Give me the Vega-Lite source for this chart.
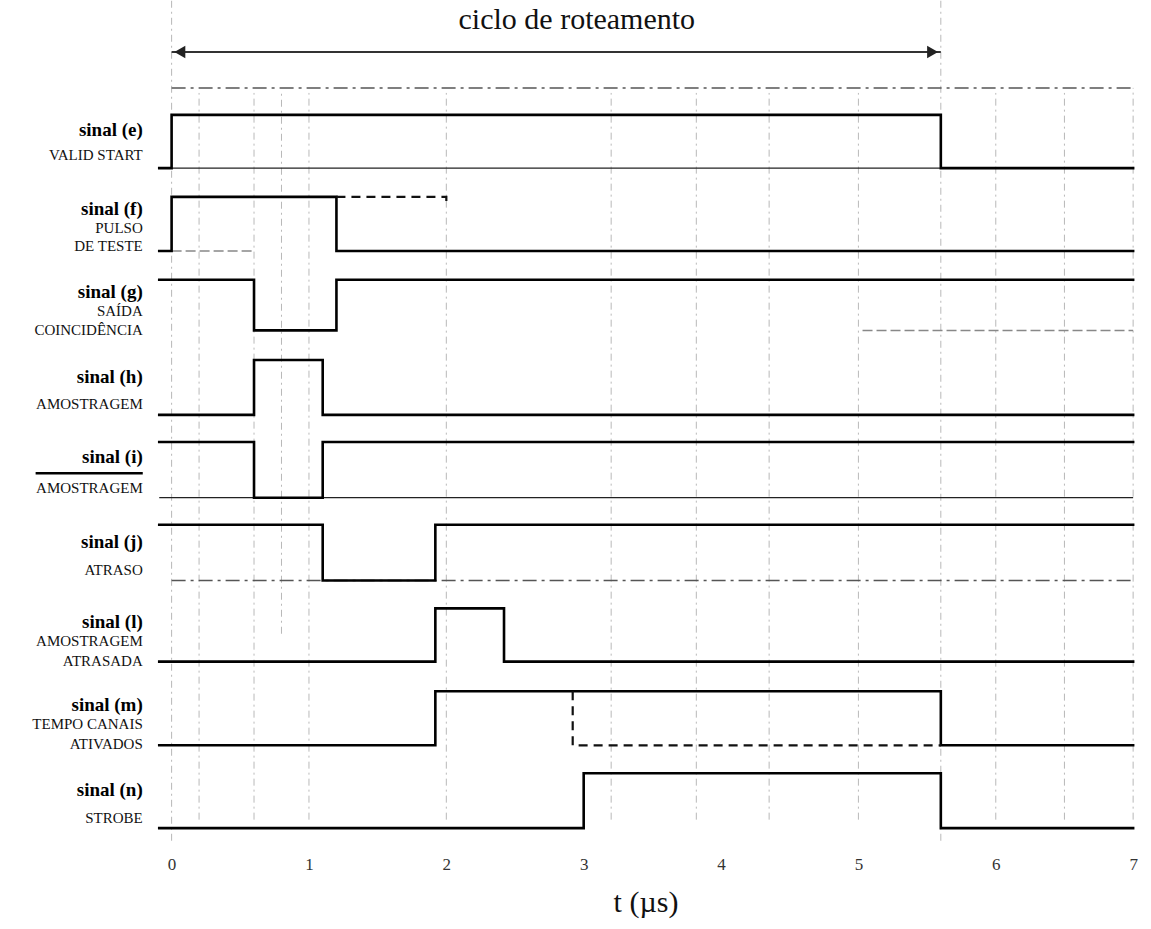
{
  "$schema": "https://vega.github.io/schema/vega-lite/v6.json",
  "width": 989,
  "height": 845,
  "autosize": "none",
  "padding": {"left": 151, "top": 0, "right": 11, "bottom": 84},
  "background": "white",
  "config": {"view": {"stroke": null}},
  "datasets": {
    "sig": [
      {"s": "e", "i": 1, "t": -0.09, "v": 8.01}, {"s": "e", "i": 2, "t": 0, "v": 8.01}, {"s": "e", "i": 3, "t": 0, "v": 8.64}, {"s": "e", "i": 4, "t": 5.6, "v": 8.64}, {"s": "e", "i": 5, "t": 5.6, "v": 8.01}, {"s": "e", "i": 6, "t": 7, "v": 8.01},
      {"s": "f", "i": 1, "t": -0.09, "v": 7.03}, {"s": "f", "i": 2, "t": 0, "v": 7.03}, {"s": "f", "i": 3, "t": 0, "v": 7.67}, {"s": "f", "i": 4, "t": 1.2, "v": 7.67}, {"s": "f", "i": 5, "t": 1.2, "v": 7.03}, {"s": "f", "i": 6, "t": 7, "v": 7.03},
      {"s": "g", "i": 1, "t": -0.09, "v": 6.69}, {"s": "g", "i": 2, "t": 0.6, "v": 6.69}, {"s": "g", "i": 3, "t": 0.6, "v": 6.09}, {"s": "g", "i": 4, "t": 1.2, "v": 6.09}, {"s": "g", "i": 5, "t": 1.2, "v": 6.69}, {"s": "g", "i": 6, "t": 7, "v": 6.69},
      {"s": "h", "i": 1, "t": -0.09, "v": 5.09}, {"s": "h", "i": 2, "t": 0.6, "v": 5.09}, {"s": "h", "i": 3, "t": 0.6, "v": 5.74}, {"s": "h", "i": 4, "t": 1.1, "v": 5.74}, {"s": "h", "i": 5, "t": 1.1, "v": 5.09}, {"s": "h", "i": 6, "t": 7, "v": 5.09},
      {"s": "i", "i": 1, "t": -0.09, "v": 4.77}, {"s": "i", "i": 2, "t": 0.6, "v": 4.77}, {"s": "i", "i": 3, "t": 0.6, "v": 4.11}, {"s": "i", "i": 4, "t": 1.1, "v": 4.11}, {"s": "i", "i": 5, "t": 1.1, "v": 4.77}, {"s": "i", "i": 6, "t": 7, "v": 4.77},
      {"s": "j", "i": 1, "t": -0.09, "v": 3.79}, {"s": "j", "i": 2, "t": 1.1, "v": 3.79}, {"s": "j", "i": 3, "t": 1.1, "v": 3.13}, {"s": "j", "i": 4, "t": 1.92, "v": 3.13}, {"s": "j", "i": 5, "t": 1.92, "v": 3.79}, {"s": "j", "i": 6, "t": 7, "v": 3.79},
      {"s": "l", "i": 1, "t": -0.09, "v": 2.17}, {"s": "l", "i": 2, "t": 1.92, "v": 2.17}, {"s": "l", "i": 3, "t": 1.92, "v": 2.8}, {"s": "l", "i": 4, "t": 2.42, "v": 2.8}, {"s": "l", "i": 5, "t": 2.42, "v": 2.17}, {"s": "l", "i": 6, "t": 7, "v": 2.17},
      {"s": "m", "i": 1, "t": -0.09, "v": 1.18}, {"s": "m", "i": 2, "t": 1.92, "v": 1.18}, {"s": "m", "i": 3, "t": 1.92, "v": 1.82}, {"s": "m", "i": 4, "t": 5.6, "v": 1.82}, {"s": "m", "i": 5, "t": 5.6, "v": 1.18}, {"s": "m", "i": 6, "t": 7, "v": 1.18},
      {"s": "n", "i": 1, "t": -0.09, "v": 0.2}, {"s": "n", "i": 2, "t": 3.0, "v": 0.2}, {"s": "n", "i": 3, "t": 3.0, "v": 0.85}, {"s": "n", "i": 4, "t": 5.6, "v": 0.85}, {"s": "n", "i": 5, "t": 5.6, "v": 0.2}, {"s": "n", "i": 6, "t": 7, "v": 0.2}
    ],
    "dash": [
      {"s": "f", "i": 1, "t": 1.2, "v": 7.67}, {"s": "f", "i": 2, "t": 2.0, "v": 7.67}, {"s": "f", "i": 3, "t": 2.0, "v": 7.55},
      {"s": "m", "i": 1, "t": 2.92, "v": 1.82}, {"s": "m", "i": 2, "t": 2.92, "v": 1.18}, {"s": "m", "i": 3, "t": 5.6, "v": 1.18}
    ],
    "base": [
      {"s": "e", "t": 0, "t2": 5.6, "v": 8.01, "k": "thin"},
      {"s": "i", "t": -0.09, "t2": 7, "v": 4.11, "k": "thin"},
      {"s": "g", "t": 5.03, "t2": 7, "v": 6.09, "k": "faint"},
      {"s": "f", "t": 0, "t2": 0.6, "v": 7.03, "k": "faint"},
      {"s": "j", "t": 0, "t2": 7, "v": 3.13, "k": "dashdot"},
      {"s": "top", "t": 0, "t2": 7, "v": 8.96, "k": "dashdot"}
    ],
    "grid": [
      {"t": 0, "a": 0.05, "b": 10}, {"t": 0.2, "a": 0.3, "b": 8.9}, {"t": 0.6, "a": 0.3, "b": 8.9}, {"t": 0.8, "a": 2.5, "b": 8.9},
      {"t": 1.0, "a": 0.3, "b": 8.9}, {"t": 2.0, "a": 0.3, "b": 8.9}, {"t": 3.2, "a": 0.3, "b": 8.9}, {"t": 3.82, "a": 0.3, "b": 8.9},
      {"t": 4.35, "a": 0.3, "b": 8.9}, {"t": 5.0, "a": 0.3, "b": 8.9}, {"t": 5.6, "a": 0.05, "b": 10}, {"t": 6.0, "a": 0.3, "b": 8.9},
      {"t": 6.5, "a": 0.3, "b": 8.9}, {"t": 7.0, "a": 0.3, "b": 8.96}
    ],
    "labels": [
      {"text": "sinal (e)", "t": -0.21, "v": 8.46, "k": "b"},
      {"text": "VALID START", "t": -0.21, "v": 8.17, "k": "c"},
      {"text": "sinal (f)", "t": -0.21, "v": 7.53, "k": "b"},
      {"text": "PULSO", "t": -0.21, "v": 7.3, "k": "c"},
      {"text": "DE TESTE", "t": -0.21, "v": 7.09, "k": "c"},
      {"text": "sinal (g)", "t": -0.21, "v": 6.55, "k": "b"},
      {"text": "SAÍDA", "t": -0.21, "v": 6.32, "k": "c"},
      {"text": "COINCIDÊNCIA", "t": -0.21, "v": 6.1, "k": "c"},
      {"text": "sinal (h)", "t": -0.21, "v": 5.54, "k": "b"},
      {"text": "AMOSTRAGEM", "t": -0.21, "v": 5.22, "k": "c"},
      {"text": "sinal (i)", "t": -0.21, "v": 4.59, "k": "b"},
      {"text": "AMOSTRAGEM", "t": -0.21, "v": 4.22, "k": "c"},
      {"text": "sinal (j)", "t": -0.21, "v": 3.59, "k": "b"},
      {"text": "ATRASO", "t": -0.21, "v": 3.25, "k": "c"},
      {"text": "sinal (l)", "t": -0.21, "v": 2.64, "k": "b"},
      {"text": "AMOSTRAGEM", "t": -0.21, "v": 2.41, "k": "c"},
      {"text": "ATRASADA", "t": -0.21, "v": 2.18, "k": "c"},
      {"text": "sinal (m)", "t": -0.21, "v": 1.66, "k": "b"},
      {"text": "TEMPO CANAIS", "t": -0.21, "v": 1.43, "k": "c"},
      {"text": "ATIVADOS", "t": -0.21, "v": 1.2, "k": "c"},
      {"text": "sinal (n)", "t": -0.21, "v": 0.65, "k": "b"},
      {"text": "STROBE", "t": -0.21, "v": 0.32, "k": "c"}
    ],
    "overline": [{"t": -0.99, "t2": -0.21, "v": 4.4}],
    "arrow": [{"t": 0, "t2": 5.6, "v": 9.385}],
    "heads": [{"t": 0.06, "v": 9.385, "shape": "triangle-left"}, {"t": 5.54, "v": 9.385, "shape": "triangle-right"}],
    "title": [{"text": "ciclo de roteamento", "t": 2.95, "v": 9.76}]
  },
  "encoding": {
    "x": {
      "field": "t", "type": "quantitative",
      "scale": {"domain": [-0.15, 7.05], "nice": false, "zero": false},
      "title": "t (µs)",
      "axis": {
        "values": [0, 1, 2, 3, 4, 5, 6, 7], "format": "d",
        "grid": false, "domain": false, "ticks": false,
        "labelFont": "Liberation Serif", "labelFontSize": 17, "labelColor": "#333",
        "labelPadding": 11,
        "titleFont": "Liberation Serif", "titleFontSize": 30, "titleFontWeight": "normal",
        "titleColor": "#111", "titlePadding": 15
      }
    },
    "y": {"field": "v", "type": "quantitative", "scale": {"domain": [0, 10], "nice": false, "zero": false}, "axis": null}
  },
  "layer": [
    {
      "data": {"name": "grid"},
      "mark": {"type": "rule", "color": "#9a9a9a", "strokeWidth": 1, "strokeDash": [7, 4, 2, 4], "opacity": 0.7},
      "encoding": {
        "y": {"field": "a", "type": "quantitative", "axis": null},
        "y2": {"field": "b"}
      }
    },
    {
      "data": {"name": "base"},
      "transform": [{"filter": "datum.k == 'thin'"}],
      "mark": {"type": "rule", "color": "#222", "strokeWidth": 1.2},
      "encoding": {"x2": {"field": "t2"}}
    },
    {
      "data": {"name": "base"},
      "transform": [{"filter": "datum.k == 'faint'"}],
      "mark": {"type": "rule", "color": "#888", "strokeWidth": 1.5, "strokeDash": [10, 4]},
      "encoding": {"x2": {"field": "t2"}}
    },
    {
      "data": {"name": "base"},
      "transform": [{"filter": "datum.k == 'dashdot'"}],
      "mark": {"type": "rule", "color": "#555", "strokeWidth": 1.5, "strokeDash": [14, 5, 3, 5]},
      "encoding": {"x2": {"field": "t2"}}
    },
    {
      "data": {"name": "sig"},
      "mark": {"type": "line", "color": "#000", "strokeWidth": 2.6, "strokeJoin": "miter", "strokeCap": "square"},
      "encoding": {
        "detail": {"field": "s"},
        "order": {"field": "i", "type": "quantitative"}
      }
    },
    {
      "data": {"name": "dash"},
      "mark": {"type": "line", "color": "#111", "strokeWidth": 2.2, "strokeDash": [9, 6]},
      "encoding": {
        "detail": {"field": "s"},
        "order": {"field": "i", "type": "quantitative"}
      }
    },
    {
      "data": {"name": "arrow"},
      "mark": {"type": "rule", "color": "#333", "strokeWidth": 2},
      "encoding": {"x2": {"field": "t2"}}
    },
    {
      "data": {"name": "heads"},
      "mark": {"type": "point", "filled": true, "color": "#222", "size": 160, "opacity": 1},
      "encoding": {
        "shape": {"field": "shape", "type": "nominal", "scale": null, "legend": null}
      }
    },
    {
      "data": {"name": "title"},
      "mark": {"type": "text", "font": "Liberation Serif", "fontSize": 30, "align": "center", "baseline": "middle", "color": "#111"},
      "encoding": {"text": {"field": "text"}}
    },
    {
      "data": {"name": "overline"},
      "mark": {"type": "rule", "color": "#000", "strokeWidth": 2.5},
      "encoding": {"x2": {"field": "t2"}}
    },
    {
      "data": {"name": "labels"},
      "transform": [{"filter": "datum.k == 'b'"}],
      "mark": {"type": "text", "font": "Liberation Serif", "fontSize": 19, "fontWeight": "bold", "align": "right", "baseline": "middle", "color": "#000"},
      "encoding": {"text": {"field": "text"}}
    },
    {
      "data": {"name": "labels"},
      "transform": [{"filter": "datum.k == 'c'"}],
      "mark": {"type": "text", "font": "Liberation Serif", "fontSize": 15, "align": "right", "baseline": "middle", "color": "#111"},
      "encoding": {"text": {"field": "text"}}
    }
  ]
}
